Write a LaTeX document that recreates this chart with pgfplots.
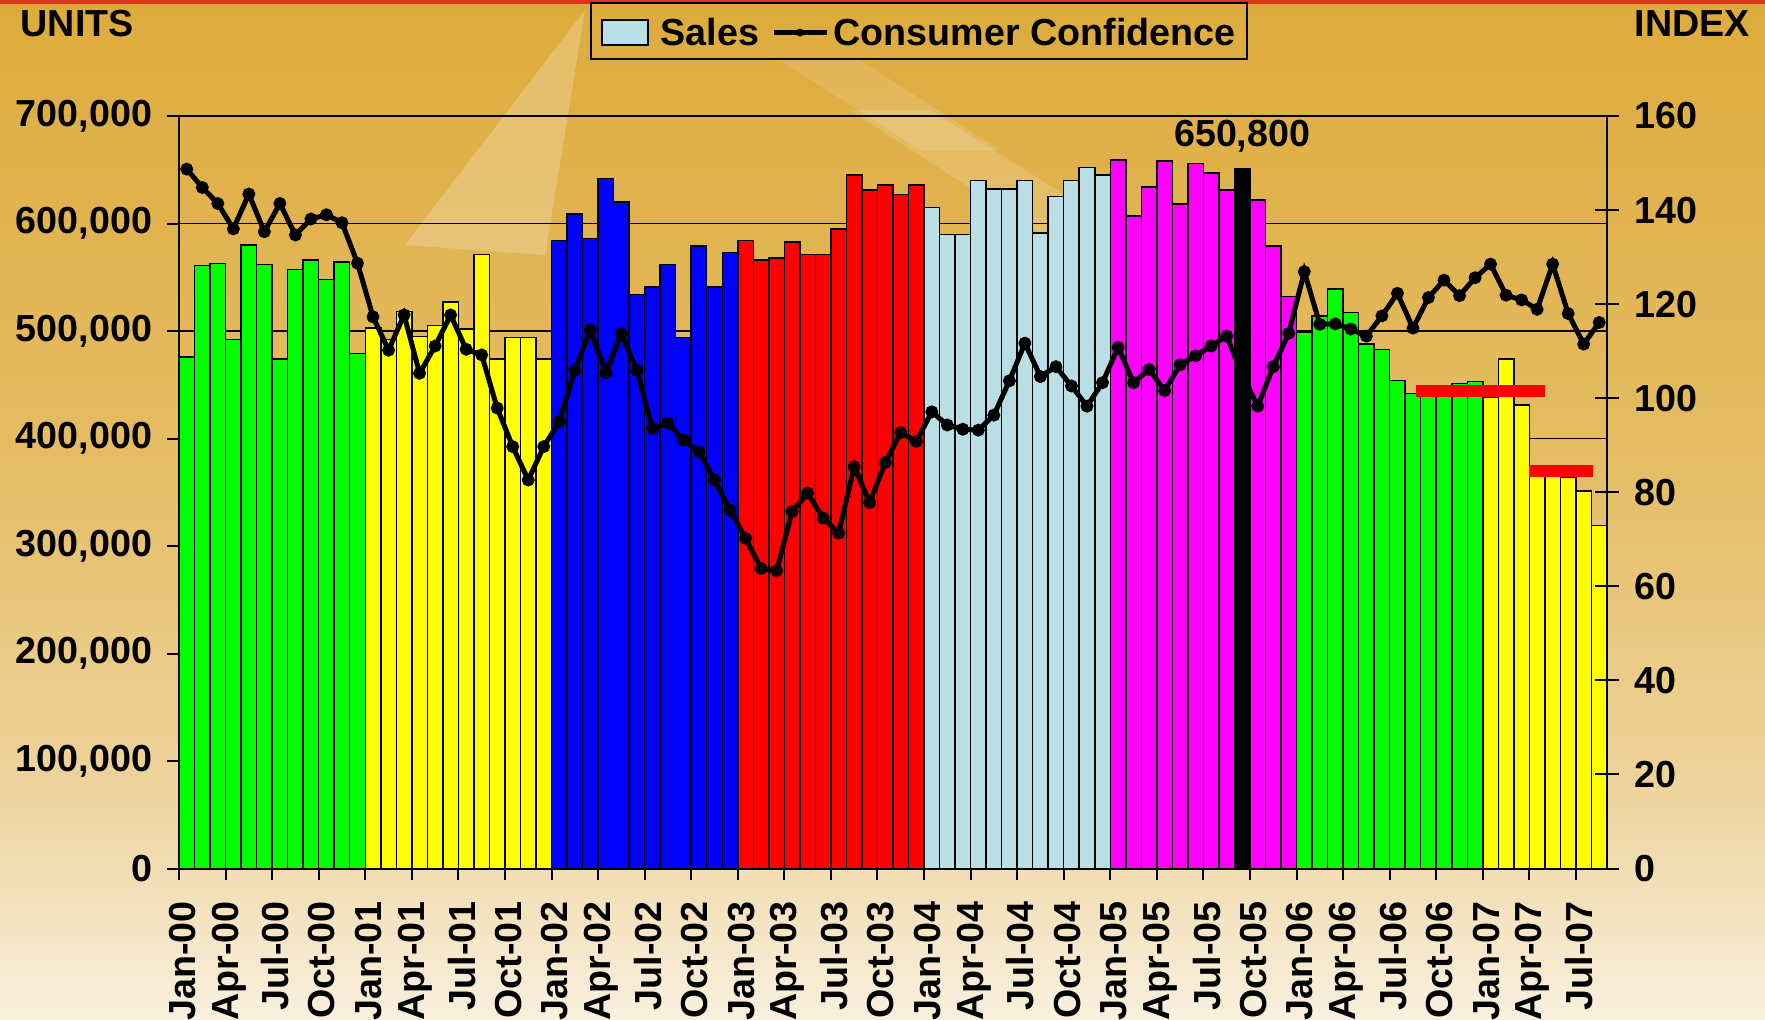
\documentclass[border=0pt]{standalone}
\usepackage{fontspec}
\setmainfont{Liberation Sans}
\usepackage{pgfplots}
\pgfplotsset{compat=1.18}
\definecolor{bgtop}{RGB}{221,171,60}
\definecolor{bgb}{RGB}{229,189,102}
\definecolor{bgc}{RGB}{238,212,158}
\definecolor{bgbot}{RGB}{249,240,222}
\definecolor{topred}{RGB}{220,50,30}
\definecolor{cgreen}{RGB}{0,255,0}
\definecolor{cyellow}{RGB}{255,255,0}
\definecolor{cblue}{RGB}{0,0,255}
\definecolor{cred}{RGB}{255,0,0}
\definecolor{cltblue}{RGB}{185,223,228}
\definecolor{cmag}{RGB}{255,0,255}
\pgfdeclareverticalshading{bgshade}{100bp}{color(0bp)=(bgbot); color(25bp)=(bgbot); color(36bp)=(bgc); color(52bp)=(bgb); color(75bp)=(bgtop); color(100bp)=(bgtop)}
\newcommand{\fs}{\fontsize{11.3}{13}\selectfont\bfseries}
\begin{document}
\begin{tikzpicture}
\begin{scope}[x=0.3pt,y=-0.3pt,yshift=305.7pt]
  \shade[shading=bgshade] (0,0) rectangle (1765,1019);
  \fill[white, opacity=0.22] (585,10) -- (405,245) -- (545,255) -- cycle;
  \fill[white, opacity=0.15] (850,110) -- (930,110) -- (1500,470) -- (1420,480) -- cycle;
  \fill[white, opacity=0.12] (780,60) -- (860,60) -- (1000,150) -- (920,150) -- cycle;
  \fill[topred] (0,0) rectangle (1765,4);
  \node[anchor=base west, inner sep=0, font=\fs] at (20,37) {UNITS};
  \node[anchor=base west, inner sep=0, font=\fs] at (1634,37) {INDEX};
  % legend
  \draw[black, line width=0.6pt] (591,3) rectangle (1247,59);
  \draw[black, line width=0.6pt, fill=cltblue] (602,20) rectangle (648,45);
  \node[anchor=base west, inner sep=0, font=\fs] at (660,46) {Sales};
  \draw[black, line width=1.5pt] (774,32.6) -- (827,32.6);
  \fill[black] (800,32.6) circle (4);
  \node[anchor=base west, inner sep=0, font=\fs] at (833,46) {Consumer Confidence};
\end{scope}
\begin{axis}[
  at={(53.7pt,45.15pt)}, anchor=south west,
  scale only axis, width=428.4pt, height=225.75pt,
  xmin=0, xmax=92, ymin=0, ymax=700000,
  scaled y ticks=false,
  axis line style={line width=0.6pt},
  xtick={0,3,...,90},
  xticklabels={Jan-00,Apr-00,Jul-00,Oct-00,Jan-01,Apr-01,Jul-01,Oct-01,Jan-02,Apr-02,Jul-02,Oct-02,Jan-03,Apr-03,Jul-03,Oct-03,Jan-04,Apr-04,Jul-04,Oct-04,Jan-05,Apr-05,Jul-05,Oct-05,Jan-06,Apr-06,Jul-06,Oct-06,Jan-07,Apr-07,Jul-07},
  ytick={0,100000,...,700000},
  yticklabels={0,{100,000},{200,000},{300,000},{400,000},{500,000},{600,000},{700,000}},
  xtick pos=bottom, ytick pos=left,
  tick align=outside, major tick length=3.5pt,
  tick style={black, line width=0.6pt},
  ymajorgrids, grid style={black, line width=0.5pt},
  tick label style={font=\fs},
  xticklabel style={yshift=-1.5pt, xshift=1pt, rotate=90, anchor=east, inner sep=0pt},
  xticklabel shift=4.6pt,
  yticklabel style={anchor=east, inner sep=0pt},
  yticklabel shift=4.4pt,
  every axis plot/.append style={ybar, bar width=1, bar shift=0pt, draw=black, line width=0.45pt},
  clip=false,
]
\addplot[fill=cgreen] coordinates {(0.5,476000)(1.5,561000)(2.5,563000)(3.5,492000)(4.5,580000)(5.5,562000)(6.5,474000)(7.5,557000)(8.5,566000)(9.5,548000)(10.5,564000)(11.5,479000)};
\addplot[fill=cyellow] coordinates {(12.5,503000)(13.5,492000)(14.5,518000)(15.5,495000)(16.5,505000)(17.5,527000)(18.5,502000)(19.5,571000)(20.5,474000)(21.5,494000)(22.5,494000)(23.5,474000)};
\addplot[fill=cblue] coordinates {(24.5,584000)(25.5,609000)(26.5,586000)(27.5,642000)(28.5,620000)(29.5,534000)(30.5,541000)(31.5,562000)(32.5,494000)(33.5,579000)(34.5,541000)(35.5,573000)};
\addplot[fill=cred] coordinates {(36.5,584000)(37.5,566000)(38.5,568000)(39.5,583000)(40.5,571000)(41.5,571000)(42.5,595000)(43.5,645000)(44.5,631000)(45.5,636000)(46.5,627000)(47.5,636000)};
\addplot[fill=cltblue] coordinates {(48.5,615000)(49.5,590000)(50.5,590000)(51.5,640000)(52.5,632000)(53.5,632000)(54.5,640000)(55.5,591000)(56.5,625000)(57.5,640000)(58.5,652000)(59.5,645000)};
\addplot[fill=cmag] coordinates {(60.5,659000)(61.5,607000)(62.5,634000)(63.5,658000)(64.5,618000)(65.5,656000)(66.5,647000)(67.5,631000)(69.5,622000)(70.5,579000)(71.5,532000)};
\addplot[fill=black] coordinates {(68.5,650800)};
\addplot[fill=cgreen] coordinates {(72.5,499000)(73.5,514000)(74.5,539000)(75.5,517000)(76.5,488000)(77.5,483000)(78.5,454000)(79.5,442000)(80.5,445000)(81.5,448000)(82.5,451000)(83.5,453000)};
\addplot[fill=cyellow] coordinates {(84.5,438000)(85.5,474000)(86.5,431000)(87.5,370000)(88.5,366000)(89.5,364000)(90.5,351000)(91.5,319000)};
\addplot[sharp plot, draw=cred, line width=3.5pt, fill=none] coordinates {(79.7,444300)(88.0,444300)};
\addplot[sharp plot, draw=cred, line width=3.5pt, fill=none] coordinates {(87.0,370000)(91.1,370000)};
\node[anchor=base, inner sep=0pt, font=\fs, yshift=6.7pt] at (axis cs:68.5,650800) {650,800};
\end{axis}
\begin{axis}[
  at={(53.7pt,45.15pt)}, anchor=south west,
  scale only axis, width=428.4pt, height=225.75pt,
  xmin=0, xmax=92, ymin=0, ymax=160,
  hide x axis,
  axis line style={line width=0.6pt},
  ytick={0,20,...,160},
  ytick pos=right, yticklabel pos=right,
  tick align=center, major tick length=7.2pt,
  tick style={black, line width=0.6pt},
  tick label style={font=\fs},
  /pgf/number format/assume math mode=true,
  yticklabel style={anchor=west, inner sep=0pt},
  yticklabel shift=4.5pt,
]
\addplot[black, line width=1.5pt, mark=*, mark size=1.15pt] coordinates {
(0.5,148.7)(1.5,144.8)(2.5,141.4)(3.5,136.0)(4.5,143.4)(5.5,135.4)(6.5,141.4)(7.5,134.7)(8.5,138.1)(9.5,139.0)(10.5,137.3)(11.5,128.7)
(12.5,117.3)(13.5,110.2)(14.5,117.7)(15.5,105.3)(16.5,111.1)(17.5,117.7)(18.5,110.4)(19.5,109.2)(20.5,97.9)(21.5,89.7)(22.5,82.6)(23.5,89.7)
(24.5,95.0)(25.5,105.9)(26.5,114.5)(27.5,105.4)(28.5,113.7)(29.5,105.9)(30.5,93.6)(31.5,94.7)(32.5,91.1)(33.5,88.6)(34.5,82.6)(35.5,76.2)
(36.5,70.2)(37.5,63.8)(38.5,63.3)(39.5,75.9)(40.5,79.8)(41.5,74.5)(42.5,71.3)(43.5,85.4)(44.5,77.8)(45.5,86.3)(46.5,92.7)(47.5,90.8)
(48.5,97.1)(49.5,94.3)(50.5,93.4)(51.5,93.2)(52.5,96.4)(53.5,103.7)(54.5,111.7)(55.5,104.6)(56.5,106.7)(57.5,102.6)(58.5,98.3)(59.5,103.3)
(60.5,110.8)(61.5,103.3)(62.5,106.1)(63.5,101.6)(64.5,107.1)(65.5,109.0)(66.5,111.1)(67.5,113.2)(68.5,105.0)(69.5,98.3)(70.5,106.7)(71.5,113.8)
(72.5,126.9)(73.5,115.7)(74.5,115.8)(75.5,114.7)(76.5,113.2)(77.5,117.5)(78.5,122.3)(79.5,114.9)(80.5,121.4)(81.5,125.1)(82.5,121.8)(83.5,125.6)
(84.5,128.5)(85.5,121.9)(86.5,120.9)(87.5,118.9)(88.5,128.5)(89.5,118.0)(90.5,111.5)(91.5,116.1)};
\end{axis}
\pgfresetboundingbox
\path (0,0) rectangle (529.5pt,305.7pt);
\end{tikzpicture}
\end{document}
